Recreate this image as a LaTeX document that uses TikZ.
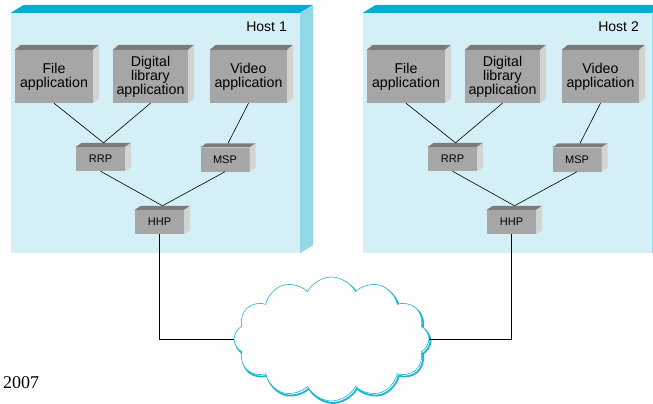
\documentclass[tikz,border=0pt]{standalone}
\usepackage{fontspec}
\setmainfont{Liberation Serif}
\setsansfont{Liberation Sans}
\usetikzlibrary{shapes.symbols}
\definecolor{hostfront}{HTML}{D5EFF6}
\definecolor{hosttop}{HTML}{00AECF}
\definecolor{hostside}{HTML}{92D9E8}
\definecolor{boxfront}{HTML}{A6A6A6}
\definecolor{boxtop}{HTML}{7B7B7B}
\definecolor{boxside}{HTML}{D3D3D3}
\definecolor{cloudcol}{HTML}{1AB4D6}
\newcommand\mkfaces[5]{%
  \fill[#4] (#1.north west) -- ++(#2,#3) -- ([shift={(#2,#3)}]#1.north east) -- (#1.north east) -- cycle;
  \fill[#5] (#1.north east) -- ++(#2,#3) -- ([shift={(#2,#3)}]#1.south east) -- (#1.south east) -- cycle;}
\newcommand\drawhost[3]{%
  \begin{scope}[xshift=#2pt]
    \node[hostbox] (host#1) at (155.5,133) {};
    \mkfaces{host#1}{13}{-8}{hosttop}{hostside}
    \node[hostlabel] (lab#1) at (287,27) {#3};
    \node[appbox, minimum width=78pt] (file#1) at (54,76.5) {File\\application};
    \node[appbox, minimum width=75pt] (dig#1) at (150.5,76.5) {Digital\\library\\application};
    \node[appbox, minimum width=77pt] (vid#1) at (248.5,76.5) {Video\\application};
    \foreach \n in {file#1,dig#1,vid#1} {\mkfaces{\n}{6}{-5}{boxtop}{boxside}}
    \node[protobox] (rrp#1) at (100.5,159) {RRP};
    \node[protobox] (msp#1) at (225,159.5) {MSP};
    \node[protobox] (hhp#1) at (159.5,222) {HHP};
    \foreach \n in {rrp#1,msp#1,hhp#1} {\mkfaces{\n}{6}{-4}{boxtop}{boxside}}
    \coordinate (rrptop#1) at ([shift={(3,-4)}]rrp#1.north);
    \coordinate (msptop#1) at ([shift={(3,-4)}]msp#1.north);
    \coordinate (hhptop#1) at ([shift={(3,-4)}]hhp#1.north);
    \draw[conn] (file#1.south) -- (rrptop#1);
    \draw[conn] (dig#1.south) -- (rrptop#1);
    \draw[conn] (vid#1.south) -- (msptop#1);
    \draw[conn] (rrp#1.south) -- (hhptop#1);
    \draw[conn] (msp#1.south) -- (hhptop#1);
  \end{scope}}
\begin{document}
\begin{tikzpicture}[x=1pt,y=-1pt,
  hostbox/.style={fill=hostfront, inner sep=0pt, minimum width=289pt, minimum height=240pt},
  hostlabel/.style={anchor=east, inner sep=0pt, font=\sffamily\fontsize{14}{15}\selectfont},
  appbox/.style={fill=boxfront, inner sep=0pt, minimum height=53pt, align=center,
    font=\sffamily\fontsize{14.2}{14}\selectfont},
  protobox/.style={fill=boxfront, inner sep=0pt, minimum width=49pt, minimum height=24pt,
    font=\sffamily\fontsize{11}{12}\selectfont},
  conn/.style={draw=black, line width=0.6pt},
  cloudshape/.style={cloud, cloud puffs=12, cloud puff arc=125, aspect=1.6, inner sep=0pt,
    minimum width=195pt, minimum height=124pt}]
\useasboundingbox (0,0) rectangle (653,404);
\begin{scope}
\clip (0,0) rectangle (653,404);
\drawhost{1}{0}{Host 1}
\drawhost{2}{352}{Host 2}
\node[cloudshape, draw=cloudcol, line width=1.8pt] (cloudsh) at (333,341) {};
\node[cloudshape, draw=cloudcol, fill=white, line width=0.6pt] (cloud) at (331.5,339) {};
\draw[conn] (hhp1.south) |- (cloud.west);
\draw[conn] (hhp2.south) |- (cloud.east);
\node[anchor=base west, inner sep=0pt, font=\fontsize{18}{20}\selectfont] (year) at (3,388) {2007};
\end{scope}
\end{tikzpicture}
\end{document}
